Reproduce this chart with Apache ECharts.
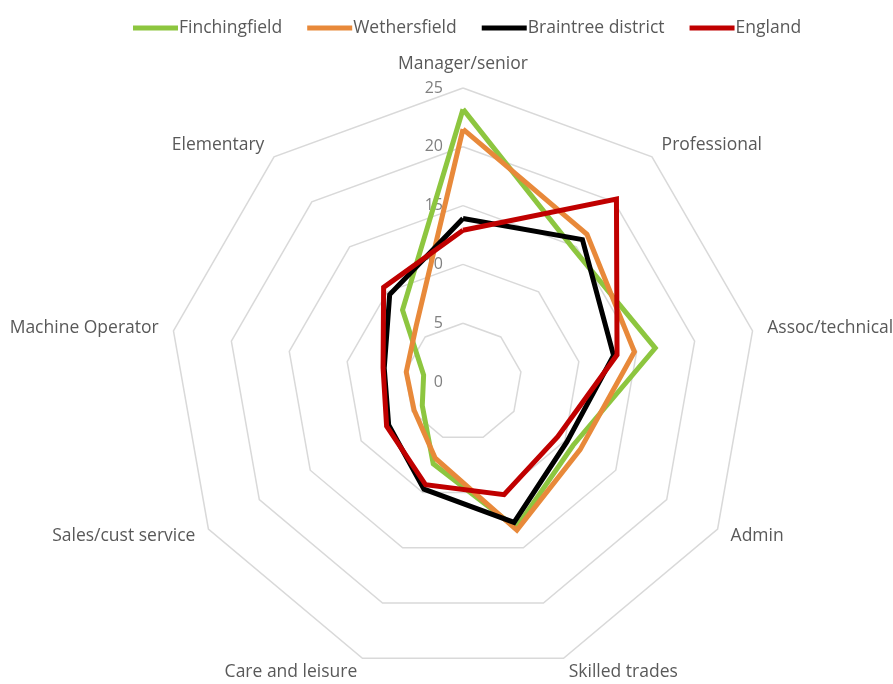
<!DOCTYPE html>
<html>
<head>
<meta charset="utf-8">
<script src="https://cdn.jsdelivr.net/npm/echarts@6/dist/echarts.min.js"></script>
<style>
  html, body { margin: 0; padding: 0; background: #ffffff; }
  #chart { width: 893px; height: 684px; }
</style>
</head>
<body>
<div id="chart"></div>
<script>
// Occupation groups, clockwise from the top
const categories = [
  'Manager/senior', 'Professional', 'Assoc/technical', 'Admin',
  'Skilled trades', 'Care and leisure', 'Sales/cust service',
  'Machine Operator', 'Elementary'
];

// Share of residents in employment (%)
const finchingfield = [23.2, 14.7, 16.6, 10.8, 13.2, 7.4, 4.0, 3.4, 8.0];
const wethersfield  = [21.5, 16.4, 14.8, 11.5, 13.4, 6.9, 4.8, 4.9, 6.2];
const braintree     = [13.9, 15.8, 13.0, 10.2, 12.7, 9.7, 7.3, 6.8, 9.7];
const england       = [12.9, 20.3, 13.3, 9.3, 10.2, 9.3, 7.5, 6.9, 10.5];

const seriesNames  = ['Finchingfield', 'Wethersfield', 'Braintree district', 'England'];
const seriesColors = ['#8DC63F', '#E8893A', '#000000', '#C00000'];
const seriesValues = [finchingfield, wethersfield, braintree, england];

const axisMax = 25;
const splitCount = 5;

const textFont = 'Open Sans';

// ECharts lays radar spokes out anticlockwise; keep the first group on top
// and walk the rest backwards so the groups read clockwise.
const order = categories.map((_, i) => (categories.length - i) % categories.length);
const reorder = arr => order.map(k => arr[k]);

const chart = echarts.init(document.getElementById('chart'), null, { renderer: 'canvas' });

const indicator = order.map((k, i) => {
  const item = { name: categories[k], min: 0, max: axisMax };
  if (i === 0) {
    // scale labels only along the top spoke
    item.axisLabel = {
      show: true,
      color: '#808080',
      fontSize: 16,
      fontFamily: textFont,
      margin: 20,
      showMinLabel: true,
      showMaxLabel: true
    };
  }
  return item;
});

chart.setOption({
  backgroundColor: '#ffffff',
  animation: false,
  legend: {
    top: 14,
    left: 128,
    itemWidth: 45,
    itemHeight: 5,
    itemGap: 25,
    icon: 'rect',
    textStyle: { color: '#595959', fontSize: 17.5, fontFamily: textFont, padding: [0, 0, 0, -4] },
    data: seriesNames
  },
  radar: {
    center: [463, 382],
    radius: 294,
    startAngle: 90,
    shape: 'polygon',
    splitNumber: splitCount,
    indicator: indicator,
    axisName: { color: '#595959', fontSize: 17.5, fontFamily: textFont },
    nameGap: 15,
    axisLine: { show: false },
    axisTick: { show: false },
    axisLabel: { show: false },
    splitArea: { show: false },
    splitLine: { lineStyle: { color: '#D9D9D9', width: 1.5 } }
  },
  series: seriesNames.map((name, i) => ({
    type: 'radar',
    name: name,
    symbol: 'none',
    lineStyle: { color: seriesColors[i], width: 5, join: 'miter' },
    itemStyle: { color: seriesColors[i] },
    data: [{ name: name, value: reorder(seriesValues[i]) }],
    z: 2 + i
  }))
});
</script>
</body>
</html>
